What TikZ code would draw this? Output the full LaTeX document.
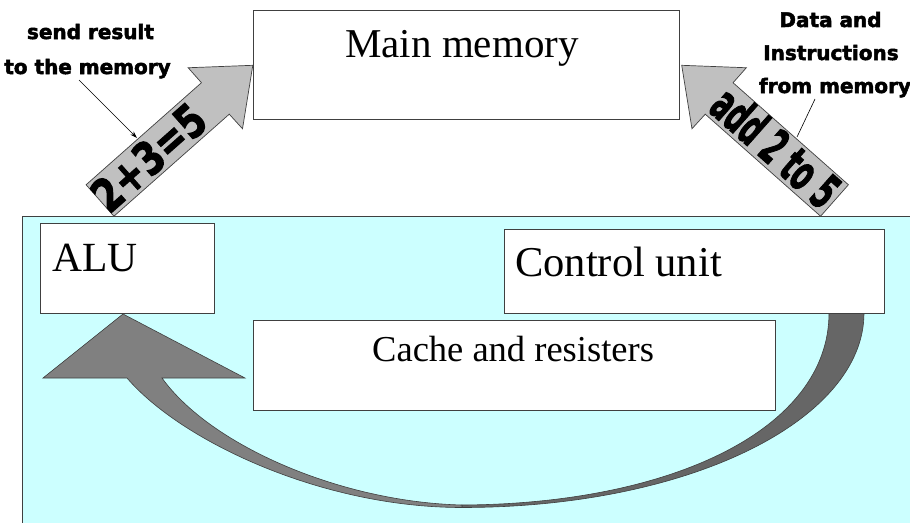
\documentclass[tikz,border=0pt]{standalone}
\usepackage{fontspec}
\usepackage{graphicx}
\setmainfont{Liberation Serif}
\newfontfamily\heavy{DejaVu Sans}[BoldFeatures={FakeBold=2.5}]
\usetikzlibrary{arrows.meta}
\definecolor{panelcyan}{HTML}{CCFFFF}
\definecolor{arrowgray}{HTML}{C0C0C0}
\definecolor{bandlight}{HTML}{808080}
\definecolor{banddark}{HTML}{666666}
\definecolor{edgegray}{HTML}{404040}
\begin{document}
\begin{tikzpicture}[x=1pt,y=-1pt,
  box/.style={draw=edgegray, line width=0.8pt, fill=white, inner sep=0pt, anchor=north west},
  seriftxt/.style={anchor=base west, inner sep=0pt},
  heavytxt/.style={anchor=base, inner sep=0pt, font={\heavy\bfseries\fontsize{20}{20}\selectfont}},
  blockarrow/.style={fill=arrowgray, draw=edgegray, line width=0.7pt, line join=miter},
  band/.style={draw=edgegray, line width=0.6pt},
  pointer/.style={draw=black, line width=0.6pt}]
\useasboundingbox (0,0) rectangle (910,522);

% CPU panel
\node[draw=edgegray, fill=panelcyan, line width=0.8pt, minimum width=900pt, minimum height=320pt,
      anchor=north west, inner sep=0pt] (cpu) at (22,216) {};

% block arrows to / from memory
\draw[blockarrow] (86.09,184.77) -- (201.44,82.73) -- (188.18,67.75) -- (252.8,65.3)
   -- (242.52,128.75) -- (229.26,114.19) -- (113.91,216.23) -- cycle;
\draw[blockarrow] (848.41,184.77) -- (733.06,82.73) -- (746.32,67.75) -- (681.7,65.3)
   -- (691.98,128.75) -- (705.24,114.19) -- (820.59,216.23) -- cycle;

% curved arrow from control unit to ALU
\draw[band, fill=banddark] (864,313) .. controls (864,420) and (690,507.5) .. (462,507.5)
   -- (462,505) .. controls (670,504) and (829,430) .. (829,313) -- cycle;
\draw[band, fill=bandlight] (127,378) -- (43,378) -- (123,314) -- (245,378) -- (162,378)
   .. controls (210,445) and (340,502) .. (462,505) -- (462,507.5)
   .. controls (320,507.5) and (180,440) .. (127,378) -- cycle;

% boxes
\node[box, minimum width=426pt, minimum height=109pt] (mem) at (253,10) {};
\node[box, minimum width=174pt, minimum height=90pt] (alu) at (40,223) {};
\node[box, minimum width=380pt, minimum height=84pt] (cu) at (504,229) {};
\node[box, minimum width=522pt, minimum height=90pt] (cache) at (253,320) {};

% box texts
\node[seriftxt, font=\fontsize{41}{41}\selectfont] (memtxt) at (345,57) {Main memory};
\node[seriftxt, font=\fontsize{41.5}{41.5}\selectfont] (alutxt) at (52,271) {ALU};
\node[seriftxt, font=\fontsize{42.5}{42.5}\selectfont] (cutxt) at (515,276) {Control unit};
\node[seriftxt, font=\fontsize{36.5}{36.5}\selectfont] (cachetxt) at (372,361) {Cache and resisters};

% texts on the block arrows
\node[rotate=41.5, inner sep=0pt] (sumtxt) at (148.7,157.4)
   {\resizebox{135pt}{34pt}{\heavy\bfseries 2+3=5}};
\node[rotate=-41.5, inner sep=0pt] (addtxt) at (776,147)
   {\resizebox{152pt}{37pt}{\heavy\bfseries add 2 to 5}};

% callouts
\node[heavytxt] (sendA) at (90.5,39) {send result};
\node[heavytxt] (sendB) at (87.5,74) {to the memory};
\node[heavytxt] (dataA) at (830.5,27) {Data and};
\node[heavytxt] (dataB) at (831,60) {Instructions};
\node[heavytxt] (dataC) at (835,93) {from memory};

\coordinate (sendptr) at (79,80);
\coordinate (sendhit) at (137,138);
\draw[pointer, -{Stealth[length=7pt,width=4.5pt]}] (sendptr) -- (sendhit);
\coordinate (dataptr) at (815,99);
\coordinate (datahit) at (797,137);
\draw[pointer] (dataptr) -- (datahit);
\end{tikzpicture}
\end{document}
